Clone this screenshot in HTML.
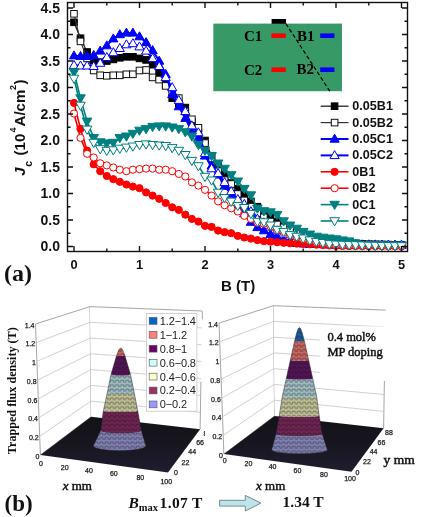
<!DOCTYPE html>
<html><head><meta charset="utf-8"><style>
html,body{margin:0;padding:0;background:#fff;width:421px;height:517px;overflow:hidden}
svg{display:block;filter:blur(0.45px)}
</style></head><body>
<svg width="421" height="517" viewBox="0 0 421 517">
<rect width="421" height="517" fill="#fff"/>
<defs><clipPath id="pc"><rect x="67.5" y="2.5" width="340" height="249"/></clipPath></defs>
<g clip-path="url(#pc)">
<polyline fill="none" stroke="#222" stroke-width="1.3" points="74,22.3 80.5,38.2 87.1,52 93.7,60.5 100.2,62.1 106.8,61 113.3,59.4 119.8,57.8 126.4,56.8 132.9,56.8 139.5,58.4 146.1,59.9 152.6,64.7 159.2,72.7 165.7,84.9 172.2,98.1 178.8,103.4 185.3,107.6 191.9,121.9 198.4,132.6 205,140.5 211.6,155.9 218.1,167 224.6,174.9 231.2,182.9 237.8,188.7 244.3,195.1 250.9,201.4 257.4,206.8 263.9,213.1 270.5,217.3 277.1,221.6 283.6,225.3 290.1,229 296.7,232.2 303.2,234.8 309.8,237 316.4,238.6 322.9,240.1 329.4,241.2 336,242.3 342.5,242.7 349.1,243.1 355.6,243.5 362.2,244 368.8,244.4 375.3,244.5 381.9,244.6 388.4,244.7 395,244.8 401.5,244.9"/>
<rect x="70.7" y="19" width="6.6" height="6.6" fill="#000000" stroke="#000000" stroke-width="1"/>
<rect x="77.2" y="34.9" width="6.6" height="6.6" fill="#000000" stroke="#000000" stroke-width="1"/>
<rect x="83.8" y="48.7" width="6.6" height="6.6" fill="#000000" stroke="#000000" stroke-width="1"/>
<rect x="90.4" y="57.2" width="6.6" height="6.6" fill="#000000" stroke="#000000" stroke-width="1"/>
<rect x="96.9" y="58.8" width="6.6" height="6.6" fill="#000000" stroke="#000000" stroke-width="1"/>
<rect x="103.5" y="57.7" width="6.6" height="6.6" fill="#000000" stroke="#000000" stroke-width="1"/>
<rect x="110" y="56.1" width="6.6" height="6.6" fill="#000000" stroke="#000000" stroke-width="1"/>
<rect x="116.5" y="54.5" width="6.6" height="6.6" fill="#000000" stroke="#000000" stroke-width="1"/>
<rect x="123.1" y="53.5" width="6.6" height="6.6" fill="#000000" stroke="#000000" stroke-width="1"/>
<rect x="129.6" y="53.5" width="6.6" height="6.6" fill="#000000" stroke="#000000" stroke-width="1"/>
<rect x="136.2" y="55.1" width="6.6" height="6.6" fill="#000000" stroke="#000000" stroke-width="1"/>
<rect x="142.8" y="56.6" width="6.6" height="6.6" fill="#000000" stroke="#000000" stroke-width="1"/>
<rect x="149.3" y="61.4" width="6.6" height="6.6" fill="#000000" stroke="#000000" stroke-width="1"/>
<rect x="155.8" y="69.4" width="6.6" height="6.6" fill="#000000" stroke="#000000" stroke-width="1"/>
<rect x="162.4" y="81.6" width="6.6" height="6.6" fill="#000000" stroke="#000000" stroke-width="1"/>
<rect x="168.9" y="94.8" width="6.6" height="6.6" fill="#000000" stroke="#000000" stroke-width="1"/>
<rect x="175.5" y="100.1" width="6.6" height="6.6" fill="#000000" stroke="#000000" stroke-width="1"/>
<rect x="182" y="104.3" width="6.6" height="6.6" fill="#000000" stroke="#000000" stroke-width="1"/>
<rect x="188.6" y="118.6" width="6.6" height="6.6" fill="#000000" stroke="#000000" stroke-width="1"/>
<rect x="195.1" y="129.2" width="6.6" height="6.6" fill="#000000" stroke="#000000" stroke-width="1"/>
<rect x="201.7" y="137.2" width="6.6" height="6.6" fill="#000000" stroke="#000000" stroke-width="1"/>
<rect x="208.2" y="152.6" width="6.6" height="6.6" fill="#000000" stroke="#000000" stroke-width="1"/>
<rect x="214.8" y="163.7" width="6.6" height="6.6" fill="#000000" stroke="#000000" stroke-width="1"/>
<rect x="221.3" y="171.6" width="6.6" height="6.6" fill="#000000" stroke="#000000" stroke-width="1"/>
<rect x="227.9" y="179.6" width="6.6" height="6.6" fill="#000000" stroke="#000000" stroke-width="1"/>
<rect x="234.4" y="185.4" width="6.6" height="6.6" fill="#000000" stroke="#000000" stroke-width="1"/>
<rect x="241" y="191.8" width="6.6" height="6.6" fill="#000000" stroke="#000000" stroke-width="1"/>
<rect x="247.6" y="198.1" width="6.6" height="6.6" fill="#000000" stroke="#000000" stroke-width="1"/>
<rect x="254.1" y="203.4" width="6.6" height="6.6" fill="#000000" stroke="#000000" stroke-width="1"/>
<rect x="260.6" y="209.8" width="6.6" height="6.6" fill="#000000" stroke="#000000" stroke-width="1"/>
<rect x="267.2" y="214" width="6.6" height="6.6" fill="#000000" stroke="#000000" stroke-width="1"/>
<rect x="273.8" y="218.3" width="6.6" height="6.6" fill="#000000" stroke="#000000" stroke-width="1"/>
<rect x="280.3" y="222" width="6.6" height="6.6" fill="#000000" stroke="#000000" stroke-width="1"/>
<rect x="286.8" y="225.7" width="6.6" height="6.6" fill="#000000" stroke="#000000" stroke-width="1"/>
<rect x="293.4" y="228.9" width="6.6" height="6.6" fill="#000000" stroke="#000000" stroke-width="1"/>
<rect x="299.9" y="231.5" width="6.6" height="6.6" fill="#000000" stroke="#000000" stroke-width="1"/>
<rect x="306.5" y="233.7" width="6.6" height="6.6" fill="#000000" stroke="#000000" stroke-width="1"/>
<rect x="313.1" y="235.2" width="6.6" height="6.6" fill="#000000" stroke="#000000" stroke-width="1"/>
<rect x="319.6" y="236.8" width="6.6" height="6.6" fill="#000000" stroke="#000000" stroke-width="1"/>
<rect x="326.1" y="237.9" width="6.6" height="6.6" fill="#000000" stroke="#000000" stroke-width="1"/>
<rect x="332.7" y="239" width="6.6" height="6.6" fill="#000000" stroke="#000000" stroke-width="1"/>
<rect x="339.2" y="239.4" width="6.6" height="6.6" fill="#000000" stroke="#000000" stroke-width="1"/>
<rect x="345.8" y="239.8" width="6.6" height="6.6" fill="#000000" stroke="#000000" stroke-width="1"/>
<rect x="352.3" y="240.2" width="6.6" height="6.6" fill="#000000" stroke="#000000" stroke-width="1"/>
<rect x="358.9" y="240.7" width="6.6" height="6.6" fill="#000000" stroke="#000000" stroke-width="1"/>
<rect x="365.4" y="241.1" width="6.6" height="6.6" fill="#000000" stroke="#000000" stroke-width="1"/>
<rect x="372" y="241.2" width="6.6" height="6.6" fill="#000000" stroke="#000000" stroke-width="1"/>
<rect x="378.6" y="241.3" width="6.6" height="6.6" fill="#000000" stroke="#000000" stroke-width="1"/>
<rect x="385.1" y="241.4" width="6.6" height="6.6" fill="#000000" stroke="#000000" stroke-width="1"/>
<rect x="391.7" y="241.5" width="6.6" height="6.6" fill="#000000" stroke="#000000" stroke-width="1"/>
<rect x="398.2" y="241.6" width="6.6" height="6.6" fill="#000000" stroke="#000000" stroke-width="1"/>
<polyline fill="none" stroke="#333" stroke-width="1.2" points="74,13.8 80.5,41.4 87.1,58.4 93.7,70.5 100.2,75.3 106.8,75.8 113.3,75.3 119.8,75.3 126.4,74.2 132.9,74.2 139.5,70.5 146.1,70 152.6,77.4 159.2,79.6 165.7,85.9 172.2,92.8 178.8,98.1 185.3,111.4 191.9,119.3 198.4,127.8 205,143.2 211.6,158.5 218.1,171.2 224.6,180.2 231.2,184 237.8,194 244.3,200.4 250.9,206.8 257.4,213.1 263.9,217.3 270.5,221.6 277.1,224.5 283.6,227.4 290.1,230.1 296.7,232.7 303.2,234.8 309.8,237 316.4,238.6 322.9,240.1 329.4,241.2 336,242.3 342.5,242.7 349.1,243.1 355.6,243.5 362.2,244 368.8,244.4 375.3,244.5 381.9,244.6 388.4,244.7 395,244.8 401.5,244.9"/>
<rect x="70.7" y="10.5" width="6.6" height="6.6" fill="#fff" stroke="#111" stroke-width="1"/>
<rect x="77.2" y="38.1" width="6.6" height="6.6" fill="#fff" stroke="#111" stroke-width="1"/>
<rect x="83.8" y="55.1" width="6.6" height="6.6" fill="#fff" stroke="#111" stroke-width="1"/>
<rect x="90.4" y="67.2" width="6.6" height="6.6" fill="#fff" stroke="#111" stroke-width="1"/>
<rect x="96.9" y="72" width="6.6" height="6.6" fill="#fff" stroke="#111" stroke-width="1"/>
<rect x="103.5" y="72.5" width="6.6" height="6.6" fill="#fff" stroke="#111" stroke-width="1"/>
<rect x="110" y="72" width="6.6" height="6.6" fill="#fff" stroke="#111" stroke-width="1"/>
<rect x="116.5" y="72" width="6.6" height="6.6" fill="#fff" stroke="#111" stroke-width="1"/>
<rect x="123.1" y="71" width="6.6" height="6.6" fill="#fff" stroke="#111" stroke-width="1"/>
<rect x="129.6" y="71" width="6.6" height="6.6" fill="#fff" stroke="#111" stroke-width="1"/>
<rect x="136.2" y="67.2" width="6.6" height="6.6" fill="#fff" stroke="#111" stroke-width="1"/>
<rect x="142.8" y="66.7" width="6.6" height="6.6" fill="#fff" stroke="#111" stroke-width="1"/>
<rect x="149.3" y="74.1" width="6.6" height="6.6" fill="#fff" stroke="#111" stroke-width="1"/>
<rect x="155.8" y="76.3" width="6.6" height="6.6" fill="#fff" stroke="#111" stroke-width="1"/>
<rect x="162.4" y="82.6" width="6.6" height="6.6" fill="#fff" stroke="#111" stroke-width="1"/>
<rect x="168.9" y="89.5" width="6.6" height="6.6" fill="#fff" stroke="#111" stroke-width="1"/>
<rect x="175.5" y="94.8" width="6.6" height="6.6" fill="#fff" stroke="#111" stroke-width="1"/>
<rect x="182" y="108.1" width="6.6" height="6.6" fill="#fff" stroke="#111" stroke-width="1"/>
<rect x="188.6" y="116" width="6.6" height="6.6" fill="#fff" stroke="#111" stroke-width="1"/>
<rect x="195.1" y="124.5" width="6.6" height="6.6" fill="#fff" stroke="#111" stroke-width="1"/>
<rect x="201.7" y="139.8" width="6.6" height="6.6" fill="#fff" stroke="#111" stroke-width="1"/>
<rect x="208.2" y="155.2" width="6.6" height="6.6" fill="#fff" stroke="#111" stroke-width="1"/>
<rect x="214.8" y="167.9" width="6.6" height="6.6" fill="#fff" stroke="#111" stroke-width="1"/>
<rect x="221.3" y="176.9" width="6.6" height="6.6" fill="#fff" stroke="#111" stroke-width="1"/>
<rect x="227.9" y="180.7" width="6.6" height="6.6" fill="#fff" stroke="#111" stroke-width="1"/>
<rect x="234.4" y="190.7" width="6.6" height="6.6" fill="#fff" stroke="#111" stroke-width="1"/>
<rect x="241" y="197.1" width="6.6" height="6.6" fill="#fff" stroke="#111" stroke-width="1"/>
<rect x="247.6" y="203.4" width="6.6" height="6.6" fill="#fff" stroke="#111" stroke-width="1"/>
<rect x="254.1" y="209.8" width="6.6" height="6.6" fill="#fff" stroke="#111" stroke-width="1"/>
<rect x="260.6" y="214" width="6.6" height="6.6" fill="#fff" stroke="#111" stroke-width="1"/>
<rect x="267.2" y="218.3" width="6.6" height="6.6" fill="#fff" stroke="#111" stroke-width="1"/>
<rect x="273.8" y="221.2" width="6.6" height="6.6" fill="#fff" stroke="#111" stroke-width="1"/>
<rect x="280.3" y="224.1" width="6.6" height="6.6" fill="#fff" stroke="#111" stroke-width="1"/>
<rect x="286.8" y="226.8" width="6.6" height="6.6" fill="#fff" stroke="#111" stroke-width="1"/>
<rect x="293.4" y="229.4" width="6.6" height="6.6" fill="#fff" stroke="#111" stroke-width="1"/>
<rect x="299.9" y="231.5" width="6.6" height="6.6" fill="#fff" stroke="#111" stroke-width="1"/>
<rect x="306.5" y="233.7" width="6.6" height="6.6" fill="#fff" stroke="#111" stroke-width="1"/>
<rect x="313.1" y="235.2" width="6.6" height="6.6" fill="#fff" stroke="#111" stroke-width="1"/>
<rect x="319.6" y="236.8" width="6.6" height="6.6" fill="#fff" stroke="#111" stroke-width="1"/>
<rect x="326.1" y="237.9" width="6.6" height="6.6" fill="#fff" stroke="#111" stroke-width="1"/>
<rect x="332.7" y="239" width="6.6" height="6.6" fill="#fff" stroke="#111" stroke-width="1"/>
<rect x="339.2" y="239.4" width="6.6" height="6.6" fill="#fff" stroke="#111" stroke-width="1"/>
<rect x="345.8" y="239.8" width="6.6" height="6.6" fill="#fff" stroke="#111" stroke-width="1"/>
<rect x="352.3" y="240.2" width="6.6" height="6.6" fill="#fff" stroke="#111" stroke-width="1"/>
<rect x="358.9" y="240.7" width="6.6" height="6.6" fill="#fff" stroke="#111" stroke-width="1"/>
<rect x="365.4" y="241.1" width="6.6" height="6.6" fill="#fff" stroke="#111" stroke-width="1"/>
<rect x="372" y="241.2" width="6.6" height="6.6" fill="#fff" stroke="#111" stroke-width="1"/>
<rect x="378.6" y="241.3" width="6.6" height="6.6" fill="#fff" stroke="#111" stroke-width="1"/>
<rect x="385.1" y="241.4" width="6.6" height="6.6" fill="#fff" stroke="#111" stroke-width="1"/>
<rect x="391.7" y="241.5" width="6.6" height="6.6" fill="#fff" stroke="#111" stroke-width="1"/>
<rect x="398.2" y="241.6" width="6.6" height="6.6" fill="#fff" stroke="#111" stroke-width="1"/>
<polyline fill="none" stroke="#0000ff" stroke-width="2.0" points="74,55.7 80.5,56.2 87.1,56.2 93.7,55.2 100.2,50.9 106.8,45.6 113.3,38.7 119.8,34.5 126.4,32.9 132.9,32.9 139.5,36.6 146.1,42.4 152.6,50.4 159.2,61 165.7,74.2 172.2,94.4 178.8,106.6 185.3,118.2 191.9,131.5 198.4,137.9 205,155.9 211.6,165.9 218.1,174.9 224.6,186.1 231.2,194 237.8,204.1 244.3,213.6 250.9,222.1 257.4,227.4 263.9,230.6 270.5,234.3 277.1,236.4 283.6,240.1 290.1,242.3 296.7,243.3 303.2,243.8 309.8,244.1 316.4,244.3 322.9,244.5 329.4,244.7 336,244.9 342.5,244.9 349.1,245 355.6,245 362.2,245 368.8,245 375.3,245.1 381.9,245.1 388.4,245.1 395,245.1 401.5,245.2"/>
<path d="M74 50.9L78.6 58.9L69.4 58.9Z" fill="#0000ff" stroke="#0000ff" stroke-width="1"/>
<path d="M80.5 51.4L85.1 59.4L76 59.4Z" fill="#0000ff" stroke="#0000ff" stroke-width="1"/>
<path d="M87.1 51.4L91.7 59.4L82.5 59.4Z" fill="#0000ff" stroke="#0000ff" stroke-width="1"/>
<path d="M93.7 50.4L98.2 58.4L89.1 58.4Z" fill="#0000ff" stroke="#0000ff" stroke-width="1"/>
<path d="M100.2 46.1L104.8 54.1L95.6 54.1Z" fill="#0000ff" stroke="#0000ff" stroke-width="1"/>
<path d="M106.8 40.8L111.3 48.8L102.2 48.8Z" fill="#0000ff" stroke="#0000ff" stroke-width="1"/>
<path d="M113.3 33.9L117.9 41.9L108.7 41.9Z" fill="#0000ff" stroke="#0000ff" stroke-width="1"/>
<path d="M119.8 29.7L124.4 37.7L115.2 37.7Z" fill="#0000ff" stroke="#0000ff" stroke-width="1"/>
<path d="M126.4 28.1L131 36.1L121.8 36.1Z" fill="#0000ff" stroke="#0000ff" stroke-width="1"/>
<path d="M132.9 28.1L137.5 36.1L128.3 36.1Z" fill="#0000ff" stroke="#0000ff" stroke-width="1"/>
<path d="M139.5 31.8L144.1 39.8L134.9 39.8Z" fill="#0000ff" stroke="#0000ff" stroke-width="1"/>
<path d="M146.1 37.6L150.7 45.6L141.5 45.6Z" fill="#0000ff" stroke="#0000ff" stroke-width="1"/>
<path d="M152.6 45.6L157.2 53.6L148 53.6Z" fill="#0000ff" stroke="#0000ff" stroke-width="1"/>
<path d="M159.2 56.2L163.8 64.2L154.6 64.2Z" fill="#0000ff" stroke="#0000ff" stroke-width="1"/>
<path d="M165.7 69.5L170.3 77.5L161.1 77.5Z" fill="#0000ff" stroke="#0000ff" stroke-width="1"/>
<path d="M172.2 89.6L176.8 97.6L167.7 97.6Z" fill="#0000ff" stroke="#0000ff" stroke-width="1"/>
<path d="M178.8 101.8L183.4 109.8L174.2 109.8Z" fill="#0000ff" stroke="#0000ff" stroke-width="1"/>
<path d="M185.3 113.4L189.9 121.4L180.8 121.4Z" fill="#0000ff" stroke="#0000ff" stroke-width="1"/>
<path d="M191.9 126.7L196.5 134.7L187.3 134.7Z" fill="#0000ff" stroke="#0000ff" stroke-width="1"/>
<path d="M198.4 133.1L203 141.1L193.8 141.1Z" fill="#0000ff" stroke="#0000ff" stroke-width="1"/>
<path d="M205 151.1L209.6 159.1L200.4 159.1Z" fill="#0000ff" stroke="#0000ff" stroke-width="1"/>
<path d="M211.6 161.1L216.2 169.1L207 169.1Z" fill="#0000ff" stroke="#0000ff" stroke-width="1"/>
<path d="M218.1 170.1L222.7 178.1L213.5 178.1Z" fill="#0000ff" stroke="#0000ff" stroke-width="1"/>
<path d="M224.6 181.3L229.2 189.3L220 189.3Z" fill="#0000ff" stroke="#0000ff" stroke-width="1"/>
<path d="M231.2 189.2L235.8 197.2L226.6 197.2Z" fill="#0000ff" stroke="#0000ff" stroke-width="1"/>
<path d="M237.8 199.3L242.3 207.3L233.2 207.3Z" fill="#0000ff" stroke="#0000ff" stroke-width="1"/>
<path d="M244.3 208.8L248.9 216.8L239.7 216.8Z" fill="#0000ff" stroke="#0000ff" stroke-width="1"/>
<path d="M250.9 217.3L255.5 225.3L246.3 225.3Z" fill="#0000ff" stroke="#0000ff" stroke-width="1"/>
<path d="M257.4 222.6L262 230.6L252.8 230.6Z" fill="#0000ff" stroke="#0000ff" stroke-width="1"/>
<path d="M263.9 225.8L268.6 233.8L259.3 233.8Z" fill="#0000ff" stroke="#0000ff" stroke-width="1"/>
<path d="M270.5 229.5L275.1 237.5L265.9 237.5Z" fill="#0000ff" stroke="#0000ff" stroke-width="1"/>
<path d="M277.1 231.6L281.7 239.6L272.4 239.6Z" fill="#0000ff" stroke="#0000ff" stroke-width="1"/>
<path d="M283.6 235.3L288.2 243.3L279 243.3Z" fill="#0000ff" stroke="#0000ff" stroke-width="1"/>
<path d="M290.1 237.5L294.8 245.5L285.5 245.5Z" fill="#0000ff" stroke="#0000ff" stroke-width="1"/>
<path d="M296.7 238.5L301.3 246.5L292.1 246.5Z" fill="#0000ff" stroke="#0000ff" stroke-width="1"/>
<path d="M303.2 239L307.9 247L298.6 247Z" fill="#0000ff" stroke="#0000ff" stroke-width="1"/>
<path d="M309.8 239.3L314.4 247.3L305.2 247.3Z" fill="#0000ff" stroke="#0000ff" stroke-width="1"/>
<path d="M316.4 239.5L321 247.5L311.8 247.5Z" fill="#0000ff" stroke="#0000ff" stroke-width="1"/>
<path d="M322.9 239.7L327.5 247.7L318.3 247.7Z" fill="#0000ff" stroke="#0000ff" stroke-width="1"/>
<path d="M329.4 239.9L334.1 247.9L324.8 247.9Z" fill="#0000ff" stroke="#0000ff" stroke-width="1"/>
<path d="M336 240.1L340.6 248.1L331.4 248.1Z" fill="#0000ff" stroke="#0000ff" stroke-width="1"/>
<path d="M342.5 240.1L347.1 248.1L337.9 248.1Z" fill="#0000ff" stroke="#0000ff" stroke-width="1"/>
<path d="M349.1 240.2L353.7 248.2L344.5 248.2Z" fill="#0000ff" stroke="#0000ff" stroke-width="1"/>
<path d="M355.6 240.2L360.2 248.2L351 248.2Z" fill="#0000ff" stroke="#0000ff" stroke-width="1"/>
<path d="M362.2 240.2L366.8 248.2L357.6 248.2Z" fill="#0000ff" stroke="#0000ff" stroke-width="1"/>
<path d="M368.8 240.2L373.4 248.2L364.1 248.2Z" fill="#0000ff" stroke="#0000ff" stroke-width="1"/>
<path d="M375.3 240.3L379.9 248.3L370.7 248.3Z" fill="#0000ff" stroke="#0000ff" stroke-width="1"/>
<path d="M381.9 240.3L386.5 248.3L377.2 248.3Z" fill="#0000ff" stroke="#0000ff" stroke-width="1"/>
<path d="M388.4 240.3L393 248.3L383.8 248.3Z" fill="#0000ff" stroke="#0000ff" stroke-width="1"/>
<path d="M395 240.3L399.6 248.3L390.4 248.3Z" fill="#0000ff" stroke="#0000ff" stroke-width="1"/>
<path d="M401.5 240.4L406.1 248.4L396.9 248.4Z" fill="#0000ff" stroke="#0000ff" stroke-width="1"/>
<polyline fill="none" stroke="#0000ff" stroke-width="2.0" points="74,65.2 80.5,65.8 87.1,65.8 93.7,66.3 100.2,63.1 106.8,57.3 113.3,52.5 119.8,48.3 126.4,44.6 132.9,43.5 139.5,46.7 146.1,50.9 152.6,58.4 159.2,66.3 165.7,77.4 172.2,87.5 178.8,100.2 185.3,111.4 191.9,125.7 198.4,132.6 205,153.2 211.6,168.6 218.1,173.4 224.6,182.4 231.2,191.4 237.8,199.3 244.3,204.1 250.9,211.5 257.4,218.9 263.9,222.7 270.5,226.9 277.1,230.6 283.6,233.8 290.1,236.4 296.7,238.3 303.2,240.1 309.8,241.5 316.4,242.8 322.9,243.3 329.4,243.8 336,244.4 342.5,244.4 349.1,244.5 355.6,244.5 362.2,244.6 368.8,244.6 375.3,244.7 381.9,244.8 388.4,244.8 395,244.9 401.5,244.9"/>
<path d="M74 60.4L78.6 68.4L69.4 68.4Z" fill="#fff" stroke="#0000ff" stroke-width="1"/>
<path d="M80.5 61L85.1 69L76 69Z" fill="#fff" stroke="#0000ff" stroke-width="1"/>
<path d="M87.1 61L91.7 69L82.5 69Z" fill="#fff" stroke="#0000ff" stroke-width="1"/>
<path d="M93.7 61.5L98.2 69.5L89.1 69.5Z" fill="#fff" stroke="#0000ff" stroke-width="1"/>
<path d="M100.2 58.3L104.8 66.3L95.6 66.3Z" fill="#fff" stroke="#0000ff" stroke-width="1"/>
<path d="M106.8 52.5L111.3 60.5L102.2 60.5Z" fill="#fff" stroke="#0000ff" stroke-width="1"/>
<path d="M113.3 47.7L117.9 55.7L108.7 55.7Z" fill="#fff" stroke="#0000ff" stroke-width="1"/>
<path d="M119.8 43.5L124.4 51.5L115.2 51.5Z" fill="#fff" stroke="#0000ff" stroke-width="1"/>
<path d="M126.4 39.8L131 47.8L121.8 47.8Z" fill="#fff" stroke="#0000ff" stroke-width="1"/>
<path d="M132.9 38.7L137.5 46.7L128.3 46.7Z" fill="#fff" stroke="#0000ff" stroke-width="1"/>
<path d="M139.5 41.9L144.1 49.9L134.9 49.9Z" fill="#fff" stroke="#0000ff" stroke-width="1"/>
<path d="M146.1 46.1L150.7 54.1L141.5 54.1Z" fill="#fff" stroke="#0000ff" stroke-width="1"/>
<path d="M152.6 53.6L157.2 61.6L148 61.6Z" fill="#fff" stroke="#0000ff" stroke-width="1"/>
<path d="M159.2 61.5L163.8 69.5L154.6 69.5Z" fill="#fff" stroke="#0000ff" stroke-width="1"/>
<path d="M165.7 72.6L170.3 80.6L161.1 80.6Z" fill="#fff" stroke="#0000ff" stroke-width="1"/>
<path d="M172.2 82.7L176.8 90.7L167.7 90.7Z" fill="#fff" stroke="#0000ff" stroke-width="1"/>
<path d="M178.8 95.4L183.4 103.4L174.2 103.4Z" fill="#fff" stroke="#0000ff" stroke-width="1"/>
<path d="M185.3 106.6L189.9 114.6L180.8 114.6Z" fill="#fff" stroke="#0000ff" stroke-width="1"/>
<path d="M191.9 120.9L196.5 128.9L187.3 128.9Z" fill="#fff" stroke="#0000ff" stroke-width="1"/>
<path d="M198.4 127.8L203 135.8L193.8 135.8Z" fill="#fff" stroke="#0000ff" stroke-width="1"/>
<path d="M205 148.4L209.6 156.4L200.4 156.4Z" fill="#fff" stroke="#0000ff" stroke-width="1"/>
<path d="M211.6 163.8L216.2 171.8L207 171.8Z" fill="#fff" stroke="#0000ff" stroke-width="1"/>
<path d="M218.1 168.6L222.7 176.6L213.5 176.6Z" fill="#fff" stroke="#0000ff" stroke-width="1"/>
<path d="M224.6 177.6L229.2 185.6L220 185.6Z" fill="#fff" stroke="#0000ff" stroke-width="1"/>
<path d="M231.2 186.6L235.8 194.6L226.6 194.6Z" fill="#fff" stroke="#0000ff" stroke-width="1"/>
<path d="M237.8 194.5L242.3 202.5L233.2 202.5Z" fill="#fff" stroke="#0000ff" stroke-width="1"/>
<path d="M244.3 199.3L248.9 207.3L239.7 207.3Z" fill="#fff" stroke="#0000ff" stroke-width="1"/>
<path d="M250.9 206.7L255.5 214.7L246.3 214.7Z" fill="#fff" stroke="#0000ff" stroke-width="1"/>
<path d="M257.4 214.1L262 222.1L252.8 222.1Z" fill="#fff" stroke="#0000ff" stroke-width="1"/>
<path d="M263.9 217.8L268.6 225.8L259.3 225.8Z" fill="#fff" stroke="#0000ff" stroke-width="1"/>
<path d="M270.5 222.1L275.1 230.1L265.9 230.1Z" fill="#fff" stroke="#0000ff" stroke-width="1"/>
<path d="M277.1 225.8L281.7 233.8L272.4 233.8Z" fill="#fff" stroke="#0000ff" stroke-width="1"/>
<path d="M283.6 229L288.2 237L279 237Z" fill="#fff" stroke="#0000ff" stroke-width="1"/>
<path d="M290.1 231.6L294.8 239.6L285.5 239.6Z" fill="#fff" stroke="#0000ff" stroke-width="1"/>
<path d="M296.7 233.5L301.3 241.5L292.1 241.5Z" fill="#fff" stroke="#0000ff" stroke-width="1"/>
<path d="M303.2 235.3L307.9 243.3L298.6 243.3Z" fill="#fff" stroke="#0000ff" stroke-width="1"/>
<path d="M309.8 236.7L314.4 244.7L305.2 244.7Z" fill="#fff" stroke="#0000ff" stroke-width="1"/>
<path d="M316.4 238L321 246L311.8 246Z" fill="#fff" stroke="#0000ff" stroke-width="1"/>
<path d="M322.9 238.5L327.5 246.5L318.3 246.5Z" fill="#fff" stroke="#0000ff" stroke-width="1"/>
<path d="M329.4 239L334.1 247L324.8 247Z" fill="#fff" stroke="#0000ff" stroke-width="1"/>
<path d="M336 239.6L340.6 247.6L331.4 247.6Z" fill="#fff" stroke="#0000ff" stroke-width="1"/>
<path d="M342.5 239.6L347.1 247.6L337.9 247.6Z" fill="#fff" stroke="#0000ff" stroke-width="1"/>
<path d="M349.1 239.7L353.7 247.7L344.5 247.7Z" fill="#fff" stroke="#0000ff" stroke-width="1"/>
<path d="M355.6 239.7L360.2 247.7L351 247.7Z" fill="#fff" stroke="#0000ff" stroke-width="1"/>
<path d="M362.2 239.8L366.8 247.8L357.6 247.8Z" fill="#fff" stroke="#0000ff" stroke-width="1"/>
<path d="M368.8 239.8L373.4 247.8L364.1 247.8Z" fill="#fff" stroke="#0000ff" stroke-width="1"/>
<path d="M375.3 239.9L379.9 247.9L370.7 247.9Z" fill="#fff" stroke="#0000ff" stroke-width="1"/>
<path d="M381.9 240L386.5 248L377.2 248Z" fill="#fff" stroke="#0000ff" stroke-width="1"/>
<path d="M388.4 240L393 248L383.8 248Z" fill="#fff" stroke="#0000ff" stroke-width="1"/>
<path d="M395 240.1L399.6 248.1L390.4 248.1Z" fill="#fff" stroke="#0000ff" stroke-width="1"/>
<path d="M401.5 240.1L406.1 248.1L396.9 248.1Z" fill="#fff" stroke="#0000ff" stroke-width="1"/>
<polyline fill="none" stroke="#ff0000" stroke-width="1.6" points="74,102.9 80.5,128.8 87.1,150.6 93.7,164.3 100.2,171.2 106.8,176 113.3,179.2 119.8,181.8 126.4,184.5 132.9,186.6 139.5,188.2 146.1,192.4 152.6,195.6 159.2,198.8 165.7,203 172.2,207.3 178.8,209.9 185.3,214.7 191.9,218.9 198.4,221.6 205,225.8 211.6,226.9 218.1,230.6 224.6,232.2 231.2,233.2 237.8,235.9 244.3,237.5 250.9,238.6 257.4,240.1 263.9,241.2 270.5,241.7 277.1,242.3 283.6,242.8 290.1,243.3 296.7,243.6 303.2,243.8 309.8,244.3 316.4,244.7 322.9,245.1 329.4,245.5 336,246 342.5,246 349.1,246.1 355.6,246.1 362.2,246.2 368.8,246.2 375.3,246.3 381.9,246.3 388.4,246.4 395,246.4 401.5,246.5"/>
<circle cx="74" cy="102.9" r="3.6" fill="#ff0000" stroke="#ff0000" stroke-width="1"/>
<circle cx="80.5" cy="128.8" r="3.6" fill="#ff0000" stroke="#ff0000" stroke-width="1"/>
<circle cx="87.1" cy="150.6" r="3.6" fill="#ff0000" stroke="#ff0000" stroke-width="1"/>
<circle cx="93.7" cy="164.3" r="3.6" fill="#ff0000" stroke="#ff0000" stroke-width="1"/>
<circle cx="100.2" cy="171.2" r="3.6" fill="#ff0000" stroke="#ff0000" stroke-width="1"/>
<circle cx="106.8" cy="176" r="3.6" fill="#ff0000" stroke="#ff0000" stroke-width="1"/>
<circle cx="113.3" cy="179.2" r="3.6" fill="#ff0000" stroke="#ff0000" stroke-width="1"/>
<circle cx="119.8" cy="181.8" r="3.6" fill="#ff0000" stroke="#ff0000" stroke-width="1"/>
<circle cx="126.4" cy="184.5" r="3.6" fill="#ff0000" stroke="#ff0000" stroke-width="1"/>
<circle cx="132.9" cy="186.6" r="3.6" fill="#ff0000" stroke="#ff0000" stroke-width="1"/>
<circle cx="139.5" cy="188.2" r="3.6" fill="#ff0000" stroke="#ff0000" stroke-width="1"/>
<circle cx="146.1" cy="192.4" r="3.6" fill="#ff0000" stroke="#ff0000" stroke-width="1"/>
<circle cx="152.6" cy="195.6" r="3.6" fill="#ff0000" stroke="#ff0000" stroke-width="1"/>
<circle cx="159.2" cy="198.8" r="3.6" fill="#ff0000" stroke="#ff0000" stroke-width="1"/>
<circle cx="165.7" cy="203" r="3.6" fill="#ff0000" stroke="#ff0000" stroke-width="1"/>
<circle cx="172.2" cy="207.3" r="3.6" fill="#ff0000" stroke="#ff0000" stroke-width="1"/>
<circle cx="178.8" cy="209.9" r="3.6" fill="#ff0000" stroke="#ff0000" stroke-width="1"/>
<circle cx="185.3" cy="214.7" r="3.6" fill="#ff0000" stroke="#ff0000" stroke-width="1"/>
<circle cx="191.9" cy="218.9" r="3.6" fill="#ff0000" stroke="#ff0000" stroke-width="1"/>
<circle cx="198.4" cy="221.6" r="3.6" fill="#ff0000" stroke="#ff0000" stroke-width="1"/>
<circle cx="205" cy="225.8" r="3.6" fill="#ff0000" stroke="#ff0000" stroke-width="1"/>
<circle cx="211.6" cy="226.9" r="3.6" fill="#ff0000" stroke="#ff0000" stroke-width="1"/>
<circle cx="218.1" cy="230.6" r="3.6" fill="#ff0000" stroke="#ff0000" stroke-width="1"/>
<circle cx="224.6" cy="232.2" r="3.6" fill="#ff0000" stroke="#ff0000" stroke-width="1"/>
<circle cx="231.2" cy="233.2" r="3.6" fill="#ff0000" stroke="#ff0000" stroke-width="1"/>
<circle cx="237.8" cy="235.9" r="3.6" fill="#ff0000" stroke="#ff0000" stroke-width="1"/>
<circle cx="244.3" cy="237.5" r="3.6" fill="#ff0000" stroke="#ff0000" stroke-width="1"/>
<circle cx="250.9" cy="238.6" r="3.6" fill="#ff0000" stroke="#ff0000" stroke-width="1"/>
<circle cx="257.4" cy="240.1" r="3.6" fill="#ff0000" stroke="#ff0000" stroke-width="1"/>
<circle cx="263.9" cy="241.2" r="3.6" fill="#ff0000" stroke="#ff0000" stroke-width="1"/>
<circle cx="270.5" cy="241.7" r="3.6" fill="#ff0000" stroke="#ff0000" stroke-width="1"/>
<circle cx="277.1" cy="242.3" r="3.6" fill="#ff0000" stroke="#ff0000" stroke-width="1"/>
<circle cx="283.6" cy="242.8" r="3.6" fill="#ff0000" stroke="#ff0000" stroke-width="1"/>
<circle cx="290.1" cy="243.3" r="3.6" fill="#ff0000" stroke="#ff0000" stroke-width="1"/>
<circle cx="296.7" cy="243.6" r="3.6" fill="#ff0000" stroke="#ff0000" stroke-width="1"/>
<circle cx="303.2" cy="243.8" r="3.6" fill="#ff0000" stroke="#ff0000" stroke-width="1"/>
<circle cx="309.8" cy="244.3" r="3.6" fill="#ff0000" stroke="#ff0000" stroke-width="1"/>
<circle cx="316.4" cy="244.7" r="3.6" fill="#ff0000" stroke="#ff0000" stroke-width="1"/>
<circle cx="322.9" cy="245.1" r="3.6" fill="#ff0000" stroke="#ff0000" stroke-width="1"/>
<circle cx="329.4" cy="245.5" r="3.6" fill="#ff0000" stroke="#ff0000" stroke-width="1"/>
<circle cx="336" cy="246" r="3.6" fill="#ff0000" stroke="#ff0000" stroke-width="1"/>
<circle cx="342.5" cy="246" r="3.6" fill="#ff0000" stroke="#ff0000" stroke-width="1"/>
<circle cx="349.1" cy="246.1" r="3.6" fill="#ff0000" stroke="#ff0000" stroke-width="1"/>
<circle cx="355.6" cy="246.1" r="3.6" fill="#ff0000" stroke="#ff0000" stroke-width="1"/>
<circle cx="362.2" cy="246.2" r="3.6" fill="#ff0000" stroke="#ff0000" stroke-width="1"/>
<circle cx="368.8" cy="246.2" r="3.6" fill="#ff0000" stroke="#ff0000" stroke-width="1"/>
<circle cx="375.3" cy="246.3" r="3.6" fill="#ff0000" stroke="#ff0000" stroke-width="1"/>
<circle cx="381.9" cy="246.3" r="3.6" fill="#ff0000" stroke="#ff0000" stroke-width="1"/>
<circle cx="388.4" cy="246.4" r="3.6" fill="#ff0000" stroke="#ff0000" stroke-width="1"/>
<circle cx="395" cy="246.4" r="3.6" fill="#ff0000" stroke="#ff0000" stroke-width="1"/>
<circle cx="401.5" cy="246.5" r="3.6" fill="#ff0000" stroke="#ff0000" stroke-width="1"/>
<polyline fill="none" stroke="#ff0000" stroke-width="1.6" points="74,113.5 80.5,137.9 87.1,153.8 93.7,157.5 100.2,163.3 106.8,165.4 113.3,167.5 119.8,169.7 126.4,171.2 132.9,169.7 139.5,169.1 146.1,168.6 152.6,168.6 159.2,169.7 165.7,169.7 172.2,171.2 178.8,173.9 185.3,176.5 191.9,182.4 198.4,185.6 205,189.8 211.6,195.6 218.1,201.4 224.6,205.2 231.2,208.3 237.8,211.5 244.3,215.8 250.9,218.9 257.4,222.7 263.9,223.7 270.5,226.4 277.1,230.1 283.6,232.2 290.1,235.4 296.7,237 303.2,239.1 309.8,240.7 316.4,242.3 322.9,243.1 329.4,244 336,244.9 342.5,245 349.1,245.1 355.6,245.2 362.2,245.3 368.8,245.4 375.3,245.5 381.9,245.7 388.4,245.8 395,245.9 401.5,246"/>
<circle cx="74" cy="113.5" r="3.6" fill="#fff" stroke="#ff0000" stroke-width="1"/>
<circle cx="80.5" cy="137.9" r="3.6" fill="#fff" stroke="#ff0000" stroke-width="1"/>
<circle cx="87.1" cy="153.8" r="3.6" fill="#fff" stroke="#ff0000" stroke-width="1"/>
<circle cx="93.7" cy="157.5" r="3.6" fill="#fff" stroke="#ff0000" stroke-width="1"/>
<circle cx="100.2" cy="163.3" r="3.6" fill="#fff" stroke="#ff0000" stroke-width="1"/>
<circle cx="106.8" cy="165.4" r="3.6" fill="#fff" stroke="#ff0000" stroke-width="1"/>
<circle cx="113.3" cy="167.5" r="3.6" fill="#fff" stroke="#ff0000" stroke-width="1"/>
<circle cx="119.8" cy="169.7" r="3.6" fill="#fff" stroke="#ff0000" stroke-width="1"/>
<circle cx="126.4" cy="171.2" r="3.6" fill="#fff" stroke="#ff0000" stroke-width="1"/>
<circle cx="132.9" cy="169.7" r="3.6" fill="#fff" stroke="#ff0000" stroke-width="1"/>
<circle cx="139.5" cy="169.1" r="3.6" fill="#fff" stroke="#ff0000" stroke-width="1"/>
<circle cx="146.1" cy="168.6" r="3.6" fill="#fff" stroke="#ff0000" stroke-width="1"/>
<circle cx="152.6" cy="168.6" r="3.6" fill="#fff" stroke="#ff0000" stroke-width="1"/>
<circle cx="159.2" cy="169.7" r="3.6" fill="#fff" stroke="#ff0000" stroke-width="1"/>
<circle cx="165.7" cy="169.7" r="3.6" fill="#fff" stroke="#ff0000" stroke-width="1"/>
<circle cx="172.2" cy="171.2" r="3.6" fill="#fff" stroke="#ff0000" stroke-width="1"/>
<circle cx="178.8" cy="173.9" r="3.6" fill="#fff" stroke="#ff0000" stroke-width="1"/>
<circle cx="185.3" cy="176.5" r="3.6" fill="#fff" stroke="#ff0000" stroke-width="1"/>
<circle cx="191.9" cy="182.4" r="3.6" fill="#fff" stroke="#ff0000" stroke-width="1"/>
<circle cx="198.4" cy="185.6" r="3.6" fill="#fff" stroke="#ff0000" stroke-width="1"/>
<circle cx="205" cy="189.8" r="3.6" fill="#fff" stroke="#ff0000" stroke-width="1"/>
<circle cx="211.6" cy="195.6" r="3.6" fill="#fff" stroke="#ff0000" stroke-width="1"/>
<circle cx="218.1" cy="201.4" r="3.6" fill="#fff" stroke="#ff0000" stroke-width="1"/>
<circle cx="224.6" cy="205.2" r="3.6" fill="#fff" stroke="#ff0000" stroke-width="1"/>
<circle cx="231.2" cy="208.3" r="3.6" fill="#fff" stroke="#ff0000" stroke-width="1"/>
<circle cx="237.8" cy="211.5" r="3.6" fill="#fff" stroke="#ff0000" stroke-width="1"/>
<circle cx="244.3" cy="215.8" r="3.6" fill="#fff" stroke="#ff0000" stroke-width="1"/>
<circle cx="250.9" cy="218.9" r="3.6" fill="#fff" stroke="#ff0000" stroke-width="1"/>
<circle cx="257.4" cy="222.7" r="3.6" fill="#fff" stroke="#ff0000" stroke-width="1"/>
<circle cx="263.9" cy="223.7" r="3.6" fill="#fff" stroke="#ff0000" stroke-width="1"/>
<circle cx="270.5" cy="226.4" r="3.6" fill="#fff" stroke="#ff0000" stroke-width="1"/>
<circle cx="277.1" cy="230.1" r="3.6" fill="#fff" stroke="#ff0000" stroke-width="1"/>
<circle cx="283.6" cy="232.2" r="3.6" fill="#fff" stroke="#ff0000" stroke-width="1"/>
<circle cx="290.1" cy="235.4" r="3.6" fill="#fff" stroke="#ff0000" stroke-width="1"/>
<circle cx="296.7" cy="237" r="3.6" fill="#fff" stroke="#ff0000" stroke-width="1"/>
<circle cx="303.2" cy="239.1" r="3.6" fill="#fff" stroke="#ff0000" stroke-width="1"/>
<circle cx="309.8" cy="240.7" r="3.6" fill="#fff" stroke="#ff0000" stroke-width="1"/>
<circle cx="316.4" cy="242.3" r="3.6" fill="#fff" stroke="#ff0000" stroke-width="1"/>
<circle cx="322.9" cy="243.1" r="3.6" fill="#fff" stroke="#ff0000" stroke-width="1"/>
<circle cx="329.4" cy="244" r="3.6" fill="#fff" stroke="#ff0000" stroke-width="1"/>
<circle cx="336" cy="244.9" r="3.6" fill="#fff" stroke="#ff0000" stroke-width="1"/>
<circle cx="342.5" cy="245" r="3.6" fill="#fff" stroke="#ff0000" stroke-width="1"/>
<circle cx="349.1" cy="245.1" r="3.6" fill="#fff" stroke="#ff0000" stroke-width="1"/>
<circle cx="355.6" cy="245.2" r="3.6" fill="#fff" stroke="#ff0000" stroke-width="1"/>
<circle cx="362.2" cy="245.3" r="3.6" fill="#fff" stroke="#ff0000" stroke-width="1"/>
<circle cx="368.8" cy="245.4" r="3.6" fill="#fff" stroke="#ff0000" stroke-width="1"/>
<circle cx="375.3" cy="245.5" r="3.6" fill="#fff" stroke="#ff0000" stroke-width="1"/>
<circle cx="381.9" cy="245.7" r="3.6" fill="#fff" stroke="#ff0000" stroke-width="1"/>
<circle cx="388.4" cy="245.8" r="3.6" fill="#fff" stroke="#ff0000" stroke-width="1"/>
<circle cx="395" cy="245.9" r="3.6" fill="#fff" stroke="#ff0000" stroke-width="1"/>
<circle cx="401.5" cy="246" r="3.6" fill="#fff" stroke="#ff0000" stroke-width="1"/>
<polyline fill="none" stroke="#008080" stroke-width="1.6" points="74,72.1 80.5,98.1 87.1,121.4 93.7,137.9 100.2,142.1 106.8,143.2 113.3,142.6 119.8,137.9 126.4,136.3 132.9,133.6 139.5,130.4 146.1,128.8 152.6,126.7 159.2,126.2 165.7,126.2 172.2,127.2 178.8,128.8 185.3,132 191.9,136.3 198.4,144.7 205,150.6 211.6,155.9 218.1,163.3 224.6,168.6 231.2,174.9 237.8,181.3 244.3,188.7 250.9,195.1 257.4,208.3 263.9,211 270.5,212.1 277.1,214.7 283.6,221.1 290.1,225.3 296.7,228.5 303.2,231.7 309.8,234.3 316.4,236.4 322.9,237.5 329.4,238.3 336,239.1 342.5,240.1 349.1,241.2 355.6,243.3 362.2,244.9 368.8,245 375.3,245.1 381.9,245.2 388.4,245.3 395,245.4 401.5,245.4"/>
<path d="M69.2 68.8L78.8 68.8L74 77Z" fill="#008080" stroke="#008080" stroke-width="1"/>
<path d="M75.8 94.8L85.3 94.8L80.5 103Z" fill="#008080" stroke="#008080" stroke-width="1"/>
<path d="M82.3 118.1L91.9 118.1L87.1 126.3Z" fill="#008080" stroke="#008080" stroke-width="1"/>
<path d="M88.9 134.6L98.5 134.6L93.7 142.8Z" fill="#008080" stroke="#008080" stroke-width="1"/>
<path d="M95.4 138.8L105 138.8L100.2 147Z" fill="#008080" stroke="#008080" stroke-width="1"/>
<path d="M102 139.9L111.5 139.9L106.8 148.1Z" fill="#008080" stroke="#008080" stroke-width="1"/>
<path d="M108.5 139.3L118.1 139.3L113.3 147.5Z" fill="#008080" stroke="#008080" stroke-width="1"/>
<path d="M115 134.6L124.6 134.6L119.8 142.8Z" fill="#008080" stroke="#008080" stroke-width="1"/>
<path d="M121.6 133L131.2 133L126.4 141.2Z" fill="#008080" stroke="#008080" stroke-width="1"/>
<path d="M128.1 130.3L137.8 130.3L132.9 138.5Z" fill="#008080" stroke="#008080" stroke-width="1"/>
<path d="M134.7 127.2L144.3 127.2L139.5 135.3Z" fill="#008080" stroke="#008080" stroke-width="1"/>
<path d="M141.2 125.6L150.9 125.6L146.1 133.8Z" fill="#008080" stroke="#008080" stroke-width="1"/>
<path d="M147.8 123.4L157.4 123.4L152.6 131.6Z" fill="#008080" stroke="#008080" stroke-width="1"/>
<path d="M154.3 122.9L164 122.9L159.2 131.1Z" fill="#008080" stroke="#008080" stroke-width="1"/>
<path d="M160.9 122.9L170.5 122.9L165.7 131.1Z" fill="#008080" stroke="#008080" stroke-width="1"/>
<path d="M167.4 124L177.1 124L172.2 132.2Z" fill="#008080" stroke="#008080" stroke-width="1"/>
<path d="M174 125.6L183.6 125.6L178.8 133.8Z" fill="#008080" stroke="#008080" stroke-width="1"/>
<path d="M180.5 128.7L190.2 128.7L185.3 136.9Z" fill="#008080" stroke="#008080" stroke-width="1"/>
<path d="M187.1 133L196.7 133L191.9 141.2Z" fill="#008080" stroke="#008080" stroke-width="1"/>
<path d="M193.6 141.5L203.2 141.5L198.4 149.7Z" fill="#008080" stroke="#008080" stroke-width="1"/>
<path d="M200.2 147.3L209.8 147.3L205 155.5Z" fill="#008080" stroke="#008080" stroke-width="1"/>
<path d="M206.8 152.6L216.4 152.6L211.6 160.8Z" fill="#008080" stroke="#008080" stroke-width="1"/>
<path d="M213.3 160L222.9 160L218.1 168.2Z" fill="#008080" stroke="#008080" stroke-width="1"/>
<path d="M219.8 165.3L229.4 165.3L224.6 173.5Z" fill="#008080" stroke="#008080" stroke-width="1"/>
<path d="M226.4 171.7L236 171.7L231.2 179.9Z" fill="#008080" stroke="#008080" stroke-width="1"/>
<path d="M232.9 178L242.6 178L237.8 186.2Z" fill="#008080" stroke="#008080" stroke-width="1"/>
<path d="M239.5 185.4L249.1 185.4L244.3 193.6Z" fill="#008080" stroke="#008080" stroke-width="1"/>
<path d="M246.1 191.8L255.7 191.8L250.9 200Z" fill="#008080" stroke="#008080" stroke-width="1"/>
<path d="M252.6 205.1L262.2 205.1L257.4 213.3Z" fill="#008080" stroke="#008080" stroke-width="1"/>
<path d="M259.1 207.7L268.8 207.7L263.9 215.9Z" fill="#008080" stroke="#008080" stroke-width="1"/>
<path d="M265.7 208.8L275.3 208.8L270.5 217Z" fill="#008080" stroke="#008080" stroke-width="1"/>
<path d="M272.2 211.4L281.9 211.4L277.1 219.6Z" fill="#008080" stroke="#008080" stroke-width="1"/>
<path d="M278.8 217.8L288.4 217.8L283.6 226Z" fill="#008080" stroke="#008080" stroke-width="1"/>
<path d="M285.3 222L294.9 222L290.1 230.2Z" fill="#008080" stroke="#008080" stroke-width="1"/>
<path d="M291.9 225.2L301.5 225.2L296.7 233.4Z" fill="#008080" stroke="#008080" stroke-width="1"/>
<path d="M298.4 228.4L308.1 228.4L303.2 236.6Z" fill="#008080" stroke="#008080" stroke-width="1"/>
<path d="M305 231L314.6 231L309.8 239.2Z" fill="#008080" stroke="#008080" stroke-width="1"/>
<path d="M311.6 233.2L321.2 233.2L316.4 241.3Z" fill="#008080" stroke="#008080" stroke-width="1"/>
<path d="M318.1 234.2L327.7 234.2L322.9 242.4Z" fill="#008080" stroke="#008080" stroke-width="1"/>
<path d="M324.6 235L334.2 235L329.4 243.2Z" fill="#008080" stroke="#008080" stroke-width="1"/>
<path d="M331.2 235.8L340.8 235.8L336 244Z" fill="#008080" stroke="#008080" stroke-width="1"/>
<path d="M337.7 236.9L347.3 236.9L342.5 245.1Z" fill="#008080" stroke="#008080" stroke-width="1"/>
<path d="M344.3 237.9L353.9 237.9L349.1 246.1Z" fill="#008080" stroke="#008080" stroke-width="1"/>
<path d="M350.8 240L360.4 240L355.6 248.2Z" fill="#008080" stroke="#008080" stroke-width="1"/>
<path d="M357.4 241.6L367 241.6L362.2 249.8Z" fill="#008080" stroke="#008080" stroke-width="1"/>
<path d="M363.9 241.7L373.6 241.7L368.8 249.9Z" fill="#008080" stroke="#008080" stroke-width="1"/>
<path d="M370.5 241.8L380.1 241.8L375.3 250Z" fill="#008080" stroke="#008080" stroke-width="1"/>
<path d="M377.1 241.9L386.7 241.9L381.9 250.1Z" fill="#008080" stroke="#008080" stroke-width="1"/>
<path d="M383.6 242L393.2 242L388.4 250.2Z" fill="#008080" stroke="#008080" stroke-width="1"/>
<path d="M390.2 242.1L399.8 242.1L395 250.3Z" fill="#008080" stroke="#008080" stroke-width="1"/>
<path d="M396.7 242.2L406.3 242.2L401.5 250.4Z" fill="#008080" stroke="#008080" stroke-width="1"/>
<polyline fill="none" stroke="#008080" stroke-width="1.6" points="74,78.5 80.5,105.5 87.1,129.4 93.7,142.6 100.2,149 106.8,150.6 113.3,150 119.8,148.4 126.4,147.4 132.9,146.3 139.5,144.7 146.1,144.2 152.6,144.7 159.2,145.3 165.7,145.8 172.2,147.9 178.8,150.6 185.3,154.8 191.9,160.6 198.4,165.9 205,176.5 211.6,180.2 218.1,192.4 224.6,197.7 231.2,201.4 237.8,205.7 244.3,207.8 250.9,213.6 257.4,221.6 263.9,222.1 270.5,225.3 277.1,229.5 283.6,231.7 290.1,234.8 296.7,236.4 303.2,238.3 309.8,240.1 316.4,241.7 322.9,242.8 329.4,243.8 336,244.4 342.5,244.6 349.1,244.8 355.6,245 362.2,245.2 368.8,245.4 375.3,245.5 381.9,245.7 388.4,245.8 395,245.9 401.5,246"/>
<path d="M69.2 75.2L78.8 75.2L74 83.4Z" fill="#fff" stroke="#008080" stroke-width="1"/>
<path d="M75.8 102.2L85.3 102.2L80.5 110.4Z" fill="#fff" stroke="#008080" stroke-width="1"/>
<path d="M82.3 126.1L91.9 126.1L87.1 134.3Z" fill="#fff" stroke="#008080" stroke-width="1"/>
<path d="M88.9 139.3L98.5 139.3L93.7 147.5Z" fill="#fff" stroke="#008080" stroke-width="1"/>
<path d="M95.4 145.7L105 145.7L100.2 153.9Z" fill="#fff" stroke="#008080" stroke-width="1"/>
<path d="M102 147.3L111.5 147.3L106.8 155.5Z" fill="#fff" stroke="#008080" stroke-width="1"/>
<path d="M108.5 146.8L118.1 146.8L113.3 155Z" fill="#fff" stroke="#008080" stroke-width="1"/>
<path d="M115 145.2L124.6 145.2L119.8 153.4Z" fill="#fff" stroke="#008080" stroke-width="1"/>
<path d="M121.6 144.1L131.2 144.1L126.4 152.3Z" fill="#fff" stroke="#008080" stroke-width="1"/>
<path d="M128.1 143L137.8 143L132.9 151.2Z" fill="#fff" stroke="#008080" stroke-width="1"/>
<path d="M134.7 141.5L144.3 141.5L139.5 149.7Z" fill="#fff" stroke="#008080" stroke-width="1"/>
<path d="M141.2 140.9L150.9 140.9L146.1 149.1Z" fill="#fff" stroke="#008080" stroke-width="1"/>
<path d="M147.8 141.5L157.4 141.5L152.6 149.7Z" fill="#fff" stroke="#008080" stroke-width="1"/>
<path d="M154.3 142L164 142L159.2 150.2Z" fill="#fff" stroke="#008080" stroke-width="1"/>
<path d="M160.9 142.5L170.5 142.5L165.7 150.7Z" fill="#fff" stroke="#008080" stroke-width="1"/>
<path d="M167.4 144.6L177.1 144.6L172.2 152.8Z" fill="#fff" stroke="#008080" stroke-width="1"/>
<path d="M174 147.3L183.6 147.3L178.8 155.5Z" fill="#fff" stroke="#008080" stroke-width="1"/>
<path d="M180.5 151.5L190.2 151.5L185.3 159.7Z" fill="#fff" stroke="#008080" stroke-width="1"/>
<path d="M187.1 157.4L196.7 157.4L191.9 165.6Z" fill="#fff" stroke="#008080" stroke-width="1"/>
<path d="M193.6 162.7L203.2 162.7L198.4 170.9Z" fill="#fff" stroke="#008080" stroke-width="1"/>
<path d="M200.2 173.3L209.8 173.3L205 181.5Z" fill="#fff" stroke="#008080" stroke-width="1"/>
<path d="M206.8 177L216.4 177L211.6 185.2Z" fill="#fff" stroke="#008080" stroke-width="1"/>
<path d="M213.3 189.2L222.9 189.2L218.1 197.4Z" fill="#fff" stroke="#008080" stroke-width="1"/>
<path d="M219.8 194.5L229.4 194.5L224.6 202.7Z" fill="#fff" stroke="#008080" stroke-width="1"/>
<path d="M226.4 198.2L236 198.2L231.2 206.4Z" fill="#fff" stroke="#008080" stroke-width="1"/>
<path d="M232.9 202.4L242.6 202.4L237.8 210.6Z" fill="#fff" stroke="#008080" stroke-width="1"/>
<path d="M239.5 204.5L249.1 204.5L244.3 212.7Z" fill="#fff" stroke="#008080" stroke-width="1"/>
<path d="M246.1 210.4L255.7 210.4L250.9 218.6Z" fill="#fff" stroke="#008080" stroke-width="1"/>
<path d="M252.6 218.3L262.2 218.3L257.4 226.5Z" fill="#fff" stroke="#008080" stroke-width="1"/>
<path d="M259.1 218.8L268.8 218.8L263.9 227Z" fill="#fff" stroke="#008080" stroke-width="1"/>
<path d="M265.7 222L275.3 222L270.5 230.2Z" fill="#fff" stroke="#008080" stroke-width="1"/>
<path d="M272.2 226.3L281.9 226.3L277.1 234.5Z" fill="#fff" stroke="#008080" stroke-width="1"/>
<path d="M278.8 228.4L288.4 228.4L283.6 236.6Z" fill="#fff" stroke="#008080" stroke-width="1"/>
<path d="M285.3 231.6L294.9 231.6L290.1 239.8Z" fill="#fff" stroke="#008080" stroke-width="1"/>
<path d="M291.9 233.2L301.5 233.2L296.7 241.3Z" fill="#fff" stroke="#008080" stroke-width="1"/>
<path d="M298.4 235L308.1 235L303.2 243.2Z" fill="#fff" stroke="#008080" stroke-width="1"/>
<path d="M305 236.9L314.6 236.9L309.8 245.1Z" fill="#fff" stroke="#008080" stroke-width="1"/>
<path d="M311.6 238.4L321.2 238.4L316.4 246.6Z" fill="#fff" stroke="#008080" stroke-width="1"/>
<path d="M318.1 239.5L327.7 239.5L322.9 247.7Z" fill="#fff" stroke="#008080" stroke-width="1"/>
<path d="M324.6 240.6L334.2 240.6L329.4 248.8Z" fill="#fff" stroke="#008080" stroke-width="1"/>
<path d="M331.2 241.1L340.8 241.1L336 249.3Z" fill="#fff" stroke="#008080" stroke-width="1"/>
<path d="M337.7 241.3L347.3 241.3L342.5 249.5Z" fill="#fff" stroke="#008080" stroke-width="1"/>
<path d="M344.3 241.5L353.9 241.5L349.1 249.7Z" fill="#fff" stroke="#008080" stroke-width="1"/>
<path d="M350.8 241.7L360.4 241.7L355.6 249.9Z" fill="#fff" stroke="#008080" stroke-width="1"/>
<path d="M357.4 241.9L367 241.9L362.2 250.1Z" fill="#fff" stroke="#008080" stroke-width="1"/>
<path d="M363.9 242.2L373.6 242.2L368.8 250.4Z" fill="#fff" stroke="#008080" stroke-width="1"/>
<path d="M370.5 242.3L380.1 242.3L375.3 250.5Z" fill="#fff" stroke="#008080" stroke-width="1"/>
<path d="M377.1 242.4L386.7 242.4L381.9 250.6Z" fill="#fff" stroke="#008080" stroke-width="1"/>
<path d="M383.6 242.5L393.2 242.5L388.4 250.7Z" fill="#fff" stroke="#008080" stroke-width="1"/>
<path d="M390.2 242.6L399.8 242.6L395 250.8Z" fill="#fff" stroke="#008080" stroke-width="1"/>
<path d="M396.7 242.7L406.3 242.7L401.5 250.9Z" fill="#fff" stroke="#008080" stroke-width="1"/>
</g>
<g stroke="#111" stroke-width="1.4" fill="none">
<rect x="67.5" y="2.5" width="340" height="249"/>
<path d="M67.5 246.5h5.5M407.5 246.5h-5.5M67.5 233.2h3M407.5 233.2h-3M67.5 220h5.5M407.5 220h-5.5M67.5 206.8h3M407.5 206.8h-3M67.5 193.5h5.5M407.5 193.5h-5.5M67.5 180.2h3M407.5 180.2h-3M67.5 167h5.5M407.5 167h-5.5M67.5 153.8h3M407.5 153.8h-3M67.5 140.5h5.5M407.5 140.5h-5.5M67.5 127.2h3M407.5 127.2h-3M67.5 114h5.5M407.5 114h-5.5M67.5 100.8h3M407.5 100.8h-3M67.5 87.5h5.5M407.5 87.5h-5.5M67.5 74.2h3M407.5 74.2h-3M67.5 61h5.5M407.5 61h-5.5M67.5 47.8h3M407.5 47.8h-3M67.5 34.5h5.5M407.5 34.5h-5.5M67.5 21.2h3M407.5 21.2h-3M67.5 8h5.5M407.5 8h-5.5M74 251.5v-5.5M74 2.5v5.5M106.8 251.5v-3M106.8 2.5v3M139.5 251.5v-5.5M139.5 2.5v5.5M172.2 251.5v-3M172.2 2.5v3M205 251.5v-5.5M205 2.5v5.5M237.8 251.5v-3M237.8 2.5v3M270.5 251.5v-5.5M270.5 2.5v5.5M303.2 251.5v-3M303.2 2.5v3M336 251.5v-5.5M336 2.5v5.5M368.8 251.5v-3M368.8 2.5v3M401.5 251.5v-5.5M401.5 2.5v5.5"/>
</g>
<g font-family="Liberation Sans, sans-serif" font-weight="bold" font-size="14" fill="#111" text-anchor="end">
<text x="60" y="251.4">0.0</text>
<text x="60" y="224.9">0.5</text>
<text x="60" y="198.4">1.0</text>
<text x="60" y="171.9">1.5</text>
<text x="60" y="145.4">2.0</text>
<text x="60" y="118.9">2.5</text>
<text x="60" y="92.4">3.0</text>
<text x="60" y="65.9">3.5</text>
<text x="60" y="39.4">4.0</text>
<text x="60" y="12.9">4.5</text>
</g>
<g font-family="Liberation Sans, sans-serif" font-weight="bold" font-size="12.8" fill="#111" text-anchor="middle">
<text x="74" y="268.9">0</text>
<text x="139.5" y="268.9">1</text>
<text x="205" y="268.9">2</text>
<text x="270.5" y="268.9">3</text>
<text x="336" y="268.9">4</text>
<text x="401.5" y="268.9">5</text>
</g>
<text x="238.2" y="291.3" font-family="Liberation Sans, sans-serif" font-weight="bold" font-size="15" fill="#111" text-anchor="middle">B (T)</text>
<text x="4" y="280.6" font-family="Liberation Serif, serif" font-weight="bold" font-size="24" fill="#111">(a)</text>
<g transform="translate(24.6 175) rotate(-90)"><text font-family="Liberation Sans, sans-serif" font-weight="bold" font-size="15" fill="#111"><tspan x="-0.8" y="0" font-style="italic">J</tspan><tspan x="8.2" y="7" font-size="10.5">c</tspan><tspan x="19.6" y="0">(10</tspan><tspan x="42.4" y="-8.8" font-size="9">4</tspan><tspan x="48.6" y="0">A/cm</tspan><tspan x="85.0" y="-8.8" font-size="9">2</tspan><tspan x="90.6" y="0">)</tspan></text></g>
<rect x="213.3" y="23.6" width="128.7" height="67.6" fill="#369966"/>
<rect x="271.6" y="19" width="14.4" height="4.8" fill="#000"/>
<rect x="271.4" y="33.4" width="14.4" height="4.6" fill="#ff0000"/>
<rect x="271.4" y="67.4" width="14.4" height="4.6" fill="#ff0000"/>
<rect x="320.2" y="33.4" width="14.2" height="4.6" fill="#0000ff"/>
<rect x="320.2" y="67.4" width="14.2" height="4.6" fill="#0000ff"/>
<line x1="285.9" y1="23.6" x2="329.8" y2="91.2" stroke="#000" stroke-width="1.2" stroke-dasharray="4 2.4"/>
<g font-family="Liberation Serif, serif" font-weight="bold" font-size="15" fill="#000">
<text x="244" y="41.2">C1</text><text x="297" y="40.8">B1</text>
<text x="244" y="74.5">C2</text><text x="296.4" y="74.3">B2</text>
</g>
<line x1="320.7" y1="106.2" x2="348.5" y2="106.2" stroke="#222" stroke-width="1.3"/>
<rect x="331.3" y="102.9" width="6.6" height="6.6" fill="#000000" stroke="#000000" stroke-width="1"/>
<line x1="320.7" y1="122.6" x2="348.5" y2="122.6" stroke="#333" stroke-width="1.2"/>
<rect x="331.3" y="119.3" width="6.6" height="6.6" fill="#fff" stroke="#111" stroke-width="1"/>
<line x1="320.7" y1="139" x2="348.5" y2="139" stroke="#0000ff" stroke-width="2.0"/>
<path d="M334.6 134.2L339.2 142.2L330 142.2Z" fill="#0000ff" stroke="#0000ff" stroke-width="1"/>
<line x1="320.7" y1="155.4" x2="348.5" y2="155.4" stroke="#0000ff" stroke-width="2.0"/>
<path d="M334.6 150.6L339.2 158.6L330 158.6Z" fill="#fff" stroke="#0000ff" stroke-width="1"/>
<line x1="320.7" y1="171.8" x2="348.5" y2="171.8" stroke="#ff0000" stroke-width="1.6"/>
<circle cx="334.6" cy="171.8" r="3.6" fill="#ff0000" stroke="#ff0000" stroke-width="1"/>
<line x1="320.7" y1="188.2" x2="348.5" y2="188.2" stroke="#ff0000" stroke-width="1.6"/>
<circle cx="334.6" cy="188.2" r="3.6" fill="#fff" stroke="#ff0000" stroke-width="1"/>
<line x1="320.7" y1="204.6" x2="348.5" y2="204.6" stroke="#008080" stroke-width="1.6"/>
<path d="M329.8 201.3L339.4 201.3L334.6 209.5Z" fill="#008080" stroke="#008080" stroke-width="1"/>
<line x1="320.7" y1="221" x2="348.5" y2="221" stroke="#008080" stroke-width="1.6"/>
<path d="M329.8 217.7L339.4 217.7L334.6 225.9Z" fill="#fff" stroke="#008080" stroke-width="1"/>
<g font-family="Liberation Sans, sans-serif" font-weight="bold" font-size="12.6" fill="#111">
<text x="352.3" y="110.1">0.05B1</text>
<text x="352.3" y="126.5">0.05B2</text>
<text x="352.3" y="142.9">0.05C1</text>
<text x="352.3" y="159.3">0.05C2</text>
<text x="352.3" y="175.7">0B1</text>
<text x="352.3" y="192.1">0B2</text>
<text x="352.3" y="208.5">0C1</text>
<text x="352.3" y="224.9">0C2</text>
</g>
<defs><clipPath id="clL"><rect x="0" y="290" width="205" height="227"/></clipPath></defs>
<defs><linearGradient id="floorg" x1="0" y1="0" x2="0" y2="1"><stop offset="0" stop-color="#131218"/><stop offset="0.5" stop-color="#17161f"/><stop offset="1" stop-color="#1f1d30"/></linearGradient></defs>
<defs><pattern id="mesh" width="5.2" height="4.4" patternUnits="userSpaceOnUse"><path d="M0.7 4.4 C0.7 0.9 4.5 0.9 4.5 4.4" fill="none" stroke="#101018" stroke-opacity="0.45" stroke-width="0.9"/></pattern></defs>
<g clip-path="url(#clL)"><path d="M40.4 455L35.5 324L90 306.6L91.1 416.8Z" fill="#fff" stroke="#8f8f8f" stroke-width="0.8"/>
<path d="M91.1 416.8L90 306.6L202 311L200.1 429.2Z" fill="#fff"/>
<path d="M90 306.6L202 311M200.1 429.2L200.9 381.9" fill="none" stroke="#8f8f8f" stroke-width="0.8"/>
<path d="M39.7 436.3L90.9 401.1L200.4 412.3M39 417.6L90.8 385.3L200.6 395.4M38.3 398.9L90.6 369.6L200.9 378.5M37.6 380.1L90.5 353.8L201.2 361.7M36.9 361.4L90.3 338.1L201.5 344.8M36.2 342.7L90.2 322.3L201.7 327.9" fill="none" stroke="#bdbdbd" stroke-width="0.7"/>
<path d="M40.4 455L168 472.6L200.1 429.2L91.1 416.8Z" fill="url(#floorg)"/>
<path d="M93.4 445.8 A26.2 4.9 0 0 0 145.8 445.8L141.3 430.4 A20.4 2.9 0 0 1 100.7 430.4Z" fill="#8080b0"/>
<path d="M100.7 430.4 A20.4 2.9 0 0 0 141.3 430.4L137.7 410.7 A17.1 1.4 0 0 1 103.4 410.7Z" fill="#702452"/>
<path d="M103.4 410.7 A17.1 1.4 0 0 0 137.7 410.7L134.3 393.1 A13.6 1 0 0 1 107.2 393.1Z" fill="#bebe94"/>
<path d="M107.2 393.1 A13.6 1 0 0 0 134.3 393.1L130.5 374.5 A9.8 1 0 0 1 111 374.5Z" fill="#9fbcc0"/>
<path d="M111 374.5 A9.8 1 0 0 0 130.5 374.5L124.8 355.2 A4 0.6 0 0 1 116.7 355.2Z" fill="#541454"/>
<path d="M116.7 355.2 A4 0.6 0 0 0 124.8 355.2 C123 350.6 122.3 348.2 120.7 348.2 C119.1 348.2 118.5 350.6 116.7 355.2Z" fill="#c6665e"/>
<path d="M93.4 445.8 A26.2 4.9 0 0 0 145.8 445.8L141.3 430.4L137.7 410.7L134.3 393.1L130.5 374.5L124.8 355.2C123 350.6 122.3 348.2 120.7 348.2 C119.1 348.2 118.5 350.6 116.7 355.2L111 374.5L107.2 393.1L103.4 410.7L100.7 430.4Z" fill="url(#mesh)"/>
<path d="M93.4 445.8 A26.2 4.9 0 0 0 145.8 445.8L141.3 430.4L137.7 410.7L134.3 393.1L130.5 374.5L124.8 355.2C123 350.6 122.3 348.2 120.7 348.2 C119.1 348.2 118.5 350.6 116.7 355.2L111 374.5L107.2 393.1L103.4 410.7L100.7 430.4Z" fill="none" stroke="#1a1a22" stroke-opacity="0.55" stroke-width="0.8"/>
<g font-family="Liberation Sans, sans-serif" font-size="7" fill="#1a1a1a" stroke="#1a1a1a" stroke-width="0.25" text-anchor="end"><text x="39.4" y="458.6">0</text><text x="38.7" y="439.9">0.2</text><text x="38" y="421.2">0.4</text><text x="37.3" y="402.5">0.6</text><text x="36.6" y="383.7">0.8</text><text x="35.9" y="365">1</text><text x="35.2" y="346.3">1.2</text><text x="34.5" y="327.6">1.4</text></g>
<g font-family="Liberation Sans, sans-serif" font-size="7" fill="#1a1a1a" stroke="#1a1a1a" stroke-width="0.25" text-anchor="middle"><text x="40.9" y="466.3">0</text><text x="64.7" y="469.8">20</text><text x="88.9" y="472.9">40</text><text x="113.8" y="476.2">60</text><text x="140.3" y="480.2">80</text><text x="166.3" y="484.3">100</text></g>
<g font-family="Liberation Sans, sans-serif" font-size="7" fill="#1a1a1a" stroke="#1a1a1a" stroke-width="0.25" text-anchor="middle"><text x="176" y="475.3">0</text><text x="185.5" y="464.9">22</text><text x="192.2" y="454.3">44</text><text x="200.1" y="445.2">66</text><text x="207.5" y="436">88</text></g></g>
<path d="M202.3 311.2V319.5" stroke="#8f8f8f" stroke-width="0.8"/>
<path d="M223.9 454.1L219 323.1L273.5 305.7L274.6 415.9Z" fill="#fff" stroke="#8f8f8f" stroke-width="0.8"/>
<path d="M274.6 415.9L273.5 305.7L385.5 310.1L383.6 428.3Z" fill="#fff"/>
<path d="M273.5 305.7L385.5 310.1M383.6 428.3L384.4 381" fill="none" stroke="#8f8f8f" stroke-width="0.8"/>
<path d="M223.2 435.4L274.4 400.2L383.9 411.4M222.5 416.7L274.3 384.4L384.1 394.5M221.8 398L274.1 368.7L384.4 377.6M221.1 379.2L274 352.9L384.7 360.8M220.4 360.5L273.8 337.2L385 343.9M219.7 341.8L273.7 321.4L385.2 327" fill="none" stroke="#bdbdbd" stroke-width="0.7"/>
<path d="M223.9 454.1L351.5 471.7L383.6 428.3L274.6 415.9Z" fill="url(#floorg)"/>
<path d="M271.7 449.9 A27.9 4.1 0 0 0 327.4 449.9L322.3 434.1 A23.2 1.6 0 0 1 275.9 434.1Z" fill="#8080b0"/>
<path d="M275.9 434.1 A23.2 1.6 0 0 0 322.3 434.1L319.2 415.8 A20 1.1 0 0 1 279.2 415.8Z" fill="#702452"/>
<path d="M279.2 415.8 A20 1.1 0 0 0 319.2 415.8L316.8 397 A17.3 1.1 0 0 1 282.2 397Z" fill="#bebe94"/>
<path d="M282.2 397 A17.3 1.1 0 0 0 316.8 397L312.7 378.4 A13.2 1.1 0 0 1 286.3 378.4Z" fill="#9fbcc0"/>
<path d="M286.3 378.4 A13.2 1.1 0 0 0 312.7 378.4L308.6 359.9 A9.1 0.8 0 0 1 290.4 359.9Z" fill="#541454"/>
<path d="M290.4 359.9 A9.1 0.8 0 0 0 308.6 359.9L304.3 340.6 A4.8 0.7 0 0 1 294.7 340.6Z" fill="#c6665e"/>
<path d="M294.7 340.6 A4.8 0.7 0 0 0 304.3 340.6 C302.1 332.2 301 327.7 299.4 327.7 C297.8 327.7 296.9 332.2 294.7 340.6Z" fill="#1c5b9a"/>
<path d="M271.7 449.9 A27.9 4.1 0 0 0 327.4 449.9L322.3 434.1L319.2 415.8L316.8 397L312.7 378.4L308.6 359.9L304.3 340.6C302.1 332.2 301 327.7 299.4 327.7 C297.8 327.7 296.9 332.2 294.7 340.6L290.4 359.9L286.3 378.4L282.2 397L279.2 415.8L275.9 434.1Z" fill="url(#mesh)"/>
<path d="M271.7 449.9 A27.9 4.1 0 0 0 327.4 449.9L322.3 434.1L319.2 415.8L316.8 397L312.7 378.4L308.6 359.9L304.3 340.6C302.1 332.2 301 327.7 299.4 327.7 C297.8 327.7 296.9 332.2 294.7 340.6L290.4 359.9L286.3 378.4L282.2 397L279.2 415.8L275.9 434.1Z" fill="none" stroke="#1a1a22" stroke-opacity="0.55" stroke-width="0.8"/>
<g font-family="Liberation Sans, sans-serif" font-size="7" fill="#1a1a1a" stroke="#1a1a1a" stroke-width="0.25" text-anchor="end"><text x="222.9" y="457.7">0</text><text x="222.2" y="439">0.2</text><text x="221.5" y="420.3">0.4</text><text x="220.8" y="401.6">0.6</text><text x="220.1" y="382.8">0.8</text><text x="219.4" y="364.1">1</text><text x="218.7" y="345.4">1.2</text><text x="218" y="326.7">1.4</text></g>
<g font-family="Liberation Sans, sans-serif" font-size="7" fill="#1a1a1a" stroke="#1a1a1a" stroke-width="0.25" text-anchor="middle"><text x="224.6" y="462.7">0</text><text x="248.4" y="466.2">20</text><text x="272.6" y="469.3">40</text><text x="297.5" y="472.6">60</text><text x="324" y="476.6">80</text><text x="350" y="480.7">100</text></g>
<g font-family="Liberation Sans, sans-serif" font-size="7" fill="#1a1a1a" stroke="#1a1a1a" stroke-width="0.25" text-anchor="middle"><text x="357.4" y="474.7">0</text><text x="366.9" y="464.3">22</text><text x="373.6" y="453.7">44</text><text x="381.5" y="444.6">66</text><text x="388.9" y="435.4">88</text></g>
<rect x="146.4" y="313.5" width="50.5" height="97.7" fill="#fff" stroke="#c8c8c8" stroke-width="0.8"/>
<rect x="149.2" y="317.5" width="7.8" height="6.8" fill="#0066cc" stroke="#555" stroke-width="0.6"/>
<rect x="149.2" y="331.4" width="7.8" height="6.8" fill="#ff8080" stroke="#555" stroke-width="0.6"/>
<rect x="149.2" y="345.3" width="7.8" height="6.8" fill="#660066" stroke="#555" stroke-width="0.6"/>
<rect x="149.2" y="359.3" width="7.8" height="6.8" fill="#ccffff" stroke="#555" stroke-width="0.6"/>
<rect x="149.2" y="373.2" width="7.8" height="6.8" fill="#ffffcc" stroke="#555" stroke-width="0.6"/>
<rect x="149.2" y="387.1" width="7.8" height="6.8" fill="#993366" stroke="#555" stroke-width="0.6"/>
<rect x="149.2" y="401" width="7.8" height="6.8" fill="#9999ff" stroke="#555" stroke-width="0.6"/>
<g font-family="Liberation Sans, sans-serif" font-size="11" fill="#222" letter-spacing="-0.15">
<text x="159.8" y="324.8">1.2−1.4</text>
<text x="159.8" y="338.7">1−1.2</text>
<text x="159.8" y="352.6">0.8−1</text>
<text x="159.8" y="366.6">0.6−0.8</text>
<text x="159.8" y="380.5">0.4−0.6</text>
<text x="159.8" y="394.4">0.2−0.4</text>
<text x="159.8" y="408.3">0−0.2</text>
</g>
<rect x="320" y="326.4" width="73" height="51.6" fill="#fff"/>
<g font-family="Liberation Serif, serif" font-size="12.5" fill="#111" stroke="#111" stroke-width="0.45">
<text x="327.4" y="341.3">0.4 mol%</text><text x="327.4" y="356.4">MP doping</text>
</g>
<g font-family="Liberation Serif, serif" font-size="13" fill="#111" stroke="#111" stroke-width="0.45">
<text x="62.7" y="489.8"><tspan font-style="italic">x</tspan> mm</text>
<text x="256" y="489.6"><tspan font-style="italic">x</tspan> mm</text>
</g>
<text x="383.6" y="464.3" font-family="Liberation Serif, serif" font-size="13.5" fill="#111" stroke="#111" stroke-width="0.5">y mm</text>
<text transform="translate(15.9 454.2) rotate(-90)" font-family="Liberation Serif, serif" font-weight="bold" font-size="12.15" fill="#111">Trapped flux density (T)</text>
<text x="4.5" y="511" font-family="Liberation Serif, serif" font-weight="bold" font-size="23" fill="#111">(b)</text>
<text x="128.5" y="507.6" font-family="Liberation Serif, serif" font-weight="bold" font-size="15.5" fill="#111"><tspan font-style="italic">B</tspan><tspan font-size="10.5" dy="3.5">max</tspan><tspan dy="-3.5" dx="1.5" letter-spacing="0.35">1.07 T</tspan></text>
<path d="M219.6 500.3H245.3V495.4L260.9 503.1L245.3 511V506.1H219.6Z" fill="#bfe3e6" stroke="#6d8d9a" stroke-width="1"/>
<text x="282.6" y="507.4" font-family="Liberation Serif, serif" font-weight="bold" font-size="15.5" fill="#111">1.34 T</text>
</svg>
</body></html>
